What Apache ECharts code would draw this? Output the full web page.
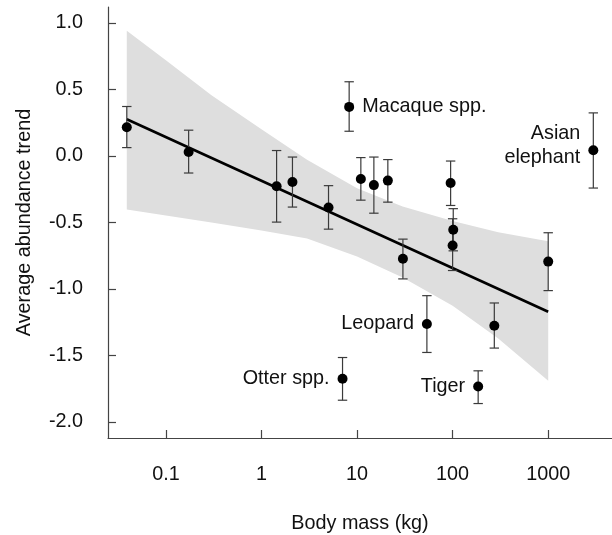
<!DOCTYPE html>
<html>
<head>
<meta charset="utf-8">
<title>Body mass and abundance trend</title>
<script src="https://cdn.jsdelivr.net/npm/echarts@6/dist/echarts.min.js"></script>
<style>
    html, body { margin: 0; padding: 0; background: #fff; }
    #chart { width: 612px; height: 535px; }
</style>
</head>
<body>
<div id="chart"></div>
<script>
// species values (mass in kg, trend with error bar ends)
var mass    = [0.039, 0.173, 1.44, 2.11, 5.03, 7.05, 8.27, 10.96, 15.0, 21.0, 30.2, 53.8, 95.3, 100, 101.5, 185, 273, 1000, 2965];
var trend   = [0.216, 0.030, -0.228, -0.196, -0.387, -1.675, 0.369, -0.173, -0.219, -0.185, -0.773, -1.263, -0.203, -0.673, -0.555, -1.733, -1.276, -0.794, 0.043];
var errLow  = [0.063, -0.128, -0.497, -0.384, -0.550, -1.836, 0.186, -0.332, -0.430, -0.347, -0.924, -1.477, -0.372, -0.861, -0.713, -1.861, -1.444, -1.012, -0.241];
var errHigh = [0.372, 0.194, 0.041, -0.008, -0.223, -1.515, 0.558, -0.012, -0.008, -0.027, -0.625, -1.050, -0.038, -0.472, -0.396, -1.615, -1.105, -0.577, 0.324];
var names   = ['', '', '', '', '', 'Otter spp.', 'Macaque spp.', '', '', '', '', 'Leopard', '', '', '', 'Tiger', '', '', 'Asian\nelephant'];

// fitted line and its confidence band
var fitX      = [0.039, 1000];
var fitY      = [0.276, -1.171];
var bandX     = [0.039, 0.1, 0.3, 1, 3, 10, 30, 100, 300, 1000];
var bandUpper = [0.942, 0.720, 0.457, 0.201, -0.029, -0.242, -0.379, -0.488, -0.573, -0.641];
var bandLower = [-0.402, -0.447, -0.500, -0.560, -0.620, -0.756, -0.914, -1.125, -1.372, -1.689];

var xTicks = [0.1, 1, 10, 100, 1000];
var yTicks = [-2, -1.5, -1, -0.5, 0, 0.5, 1];

var FONT = 'Liberation Sans, Arial, Helvetica, sans-serif';
var FONT_SIZE = 19.8;
var TEXT = '#111';
var AXIS = '#444';

var labelSide = {
    'Otter spp.':      'left',
    'Macaque spp.':    'right',
    'Leopard':         'left',
    'Tiger':           'left',
    'Asian\nelephant': 'left'
};

var chart = echarts.init(document.getElementById('chart'), null, { renderer: 'canvas' });

var pointData = mass.map(function (m, i) {
    var item = { value: [m, trend[i]] };
    if (names[i]) {
        item.label = {
            show: true,
            formatter: names[i],
            position: labelSide[names[i]],
            distance: 8,
            align: labelSide[names[i]] === 'left' ? 'right' : 'left',
            fontFamily: FONT,
            fontSize: FONT_SIZE,
            color: TEXT,
            lineHeight: 24,
            offset: names[i].indexOf('\n') > -1 ? [0, -5] : [0, 0]
        };
    }
    return item;
});

var option = {
    animation: false,
    grid: {
        left: 108,
        right: 0,
        top: 7,
        bottom: 97,
        containLabel: false,
        outerBoundsMode: 'none'
    },
    xAxis: {
        type: 'log',
        logBase: 10,
        min: 0.0248,
        max: 4650,
        name: 'Body mass (kg)',
        nameLocation: 'middle',
        nameGap: 76,
        nameTextStyle: { fontFamily: FONT, fontSize: FONT_SIZE, color: TEXT },
        axisLine: { show: true, onZero: false, lineStyle: { color: AXIS, width: 1.2 } },
        axisTick: { show: true, inside: true, length: 8, customValues: xTicks, lineStyle: { color: AXIS, width: 1.2 } },
        axisLabel: {
            customValues: xTicks,
            margin: 27,
            fontFamily: FONT,
            fontSize: FONT_SIZE,
            color: TEXT,
            formatter: function (v) { return String(v); }
        },
        splitLine: { show: false },
        minorTick: { show: false }
    },
    yAxis: {
        type: 'value',
        min: -2.12,
        max: 1.12,
        name: 'Average abundance trend',
        nameLocation: 'middle',
        nameGap: 73,
        nameTextStyle: { fontFamily: FONT, fontSize: FONT_SIZE, color: TEXT },
        axisLine: { show: true, onZero: false, lineStyle: { color: AXIS, width: 1.2 } },
        axisTick: { show: true, inside: true, length: 8, customValues: yTicks, lineStyle: { color: AXIS, width: 1.2 } },
        axisLabel: {
            customValues: yTicks,
            margin: 25,
            fontFamily: FONT,
            fontSize: FONT_SIZE,
            color: TEXT,
            formatter: function (v) { return v.toFixed(1); }
        },
        splitLine: { show: false }
    },
    series: [
        {
            // confidence band drawn as one polygon
            type: 'custom',
            z: 1,
            silent: true,
            data: bandX.map(function (x, i) { return [x, bandLower[i], bandUpper[i]]; }),
            renderItem: function (params, api) {
                if (params.dataIndex !== 0) {
                    return null;
                }
                var pts = [];
                var i;
                for (i = 0; i < bandX.length; i++) {
                    pts.push(api.coord([bandX[i], bandUpper[i]]));
                }
                for (i = bandX.length - 1; i >= 0; i--) {
                    pts.push(api.coord([bandX[i], bandLower[i]]));
                }
                return {
                    type: 'polygon',
                    shape: { points: pts },
                    style: { fill: '#dedede', stroke: null }
                };
            }
        },
        {
            type: 'line',
            z: 2,
            silent: true,
            symbol: 'none',
            data: fitX.map(function (x, i) { return [x, fitY[i]]; }),
            lineStyle: { color: '#000', width: 2.6 }
        },
        {
            // error bars
            type: 'custom',
            z: 3,
            silent: true,
            data: mass.map(function (m, i) { return [m, errLow[i], errHigh[i]]; }),
            renderItem: function (params, api) {
                var lo = api.coord([api.value(0), api.value(1)]);
                var hi = api.coord([api.value(0), api.value(2)]);
                var cap = 4.7;
                var style = { stroke: '#3a3a3a', lineWidth: 1.2 };
                return {
                    type: 'group',
                    children: [
                        { type: 'line', shape: { x1: lo[0], y1: lo[1], x2: hi[0], y2: hi[1] }, style: style },
                        { type: 'line', shape: { x1: lo[0] - cap, y1: lo[1], x2: lo[0] + cap, y2: lo[1] }, style: style },
                        { type: 'line', shape: { x1: hi[0] - cap, y1: hi[1], x2: hi[0] + cap, y2: hi[1] }, style: style }
                    ]
                };
            }
        },
        {
            type: 'scatter',
            z: 4,
            symbol: 'circle',
            symbolSize: 10,
            itemStyle: { color: '#000', opacity: 1 },
            label: { fontFamily: FONT, fontSize: FONT_SIZE, color: TEXT },
            data: pointData
        }
    ]
};

chart.setOption(option);
</script>
</body>
</html>
